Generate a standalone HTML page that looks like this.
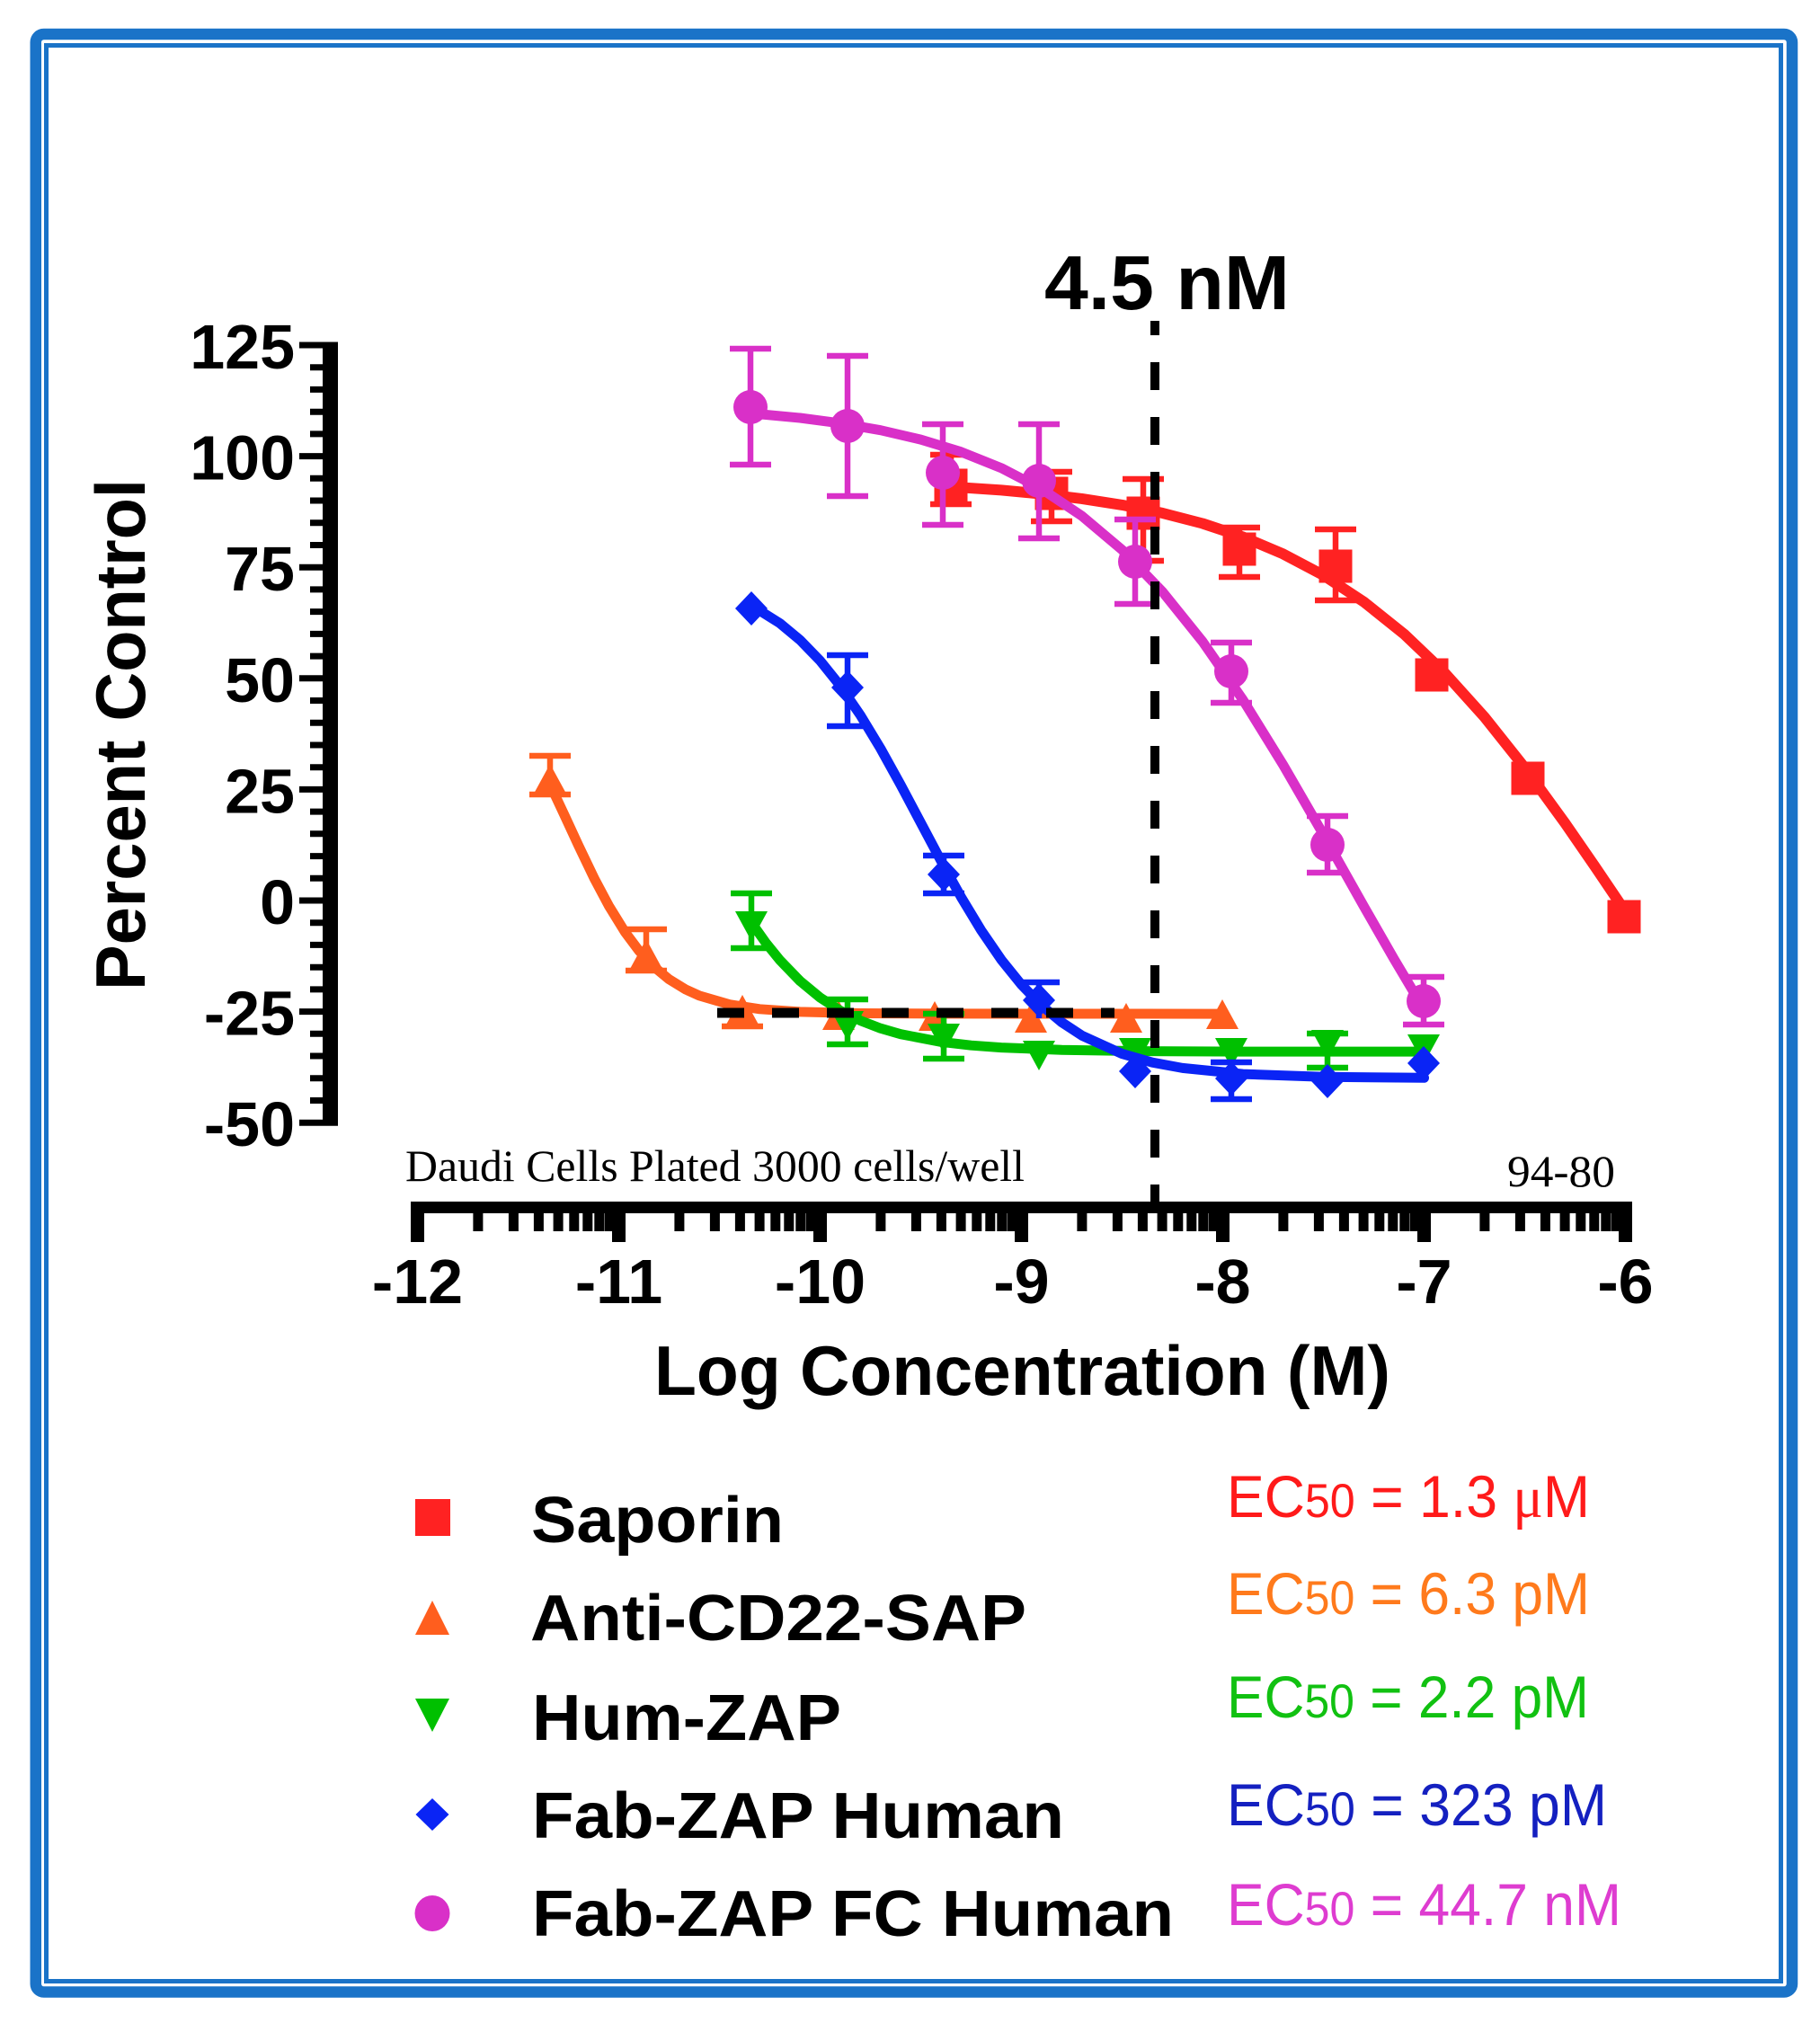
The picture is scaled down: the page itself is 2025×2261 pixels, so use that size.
<!DOCTYPE html>
<html>
<head>
<meta charset="utf-8">
<style>
  html, body { margin:0; padding:0; background:#ffffff; }
  svg { display:block; }
  .b { font-family:"Liberation Sans", Arial, sans-serif; font-weight:bold; }
  .r { font-family:"Liberation Sans", Arial, sans-serif; font-weight:normal; }
  .s { font-family:"Liberation Serif", "Times New Roman", serif; }
</style>
</head>
<body>
<svg width="2025" height="2261" viewBox="0 0 2025 2261" xmlns="http://www.w3.org/2000/svg">
  <rect x="0" y="0" width="2025" height="2261" fill="#ffffff"/>
  <!-- frame -->
  <rect x="39.75" y="38" width="1954.25" height="2178.5" rx="9" fill="none" stroke="#1a73c8" stroke-width="12.5"/>
  <rect x="51.5" y="50.5" width="1930" height="2154" fill="none" stroke="#1a73c8" stroke-width="5"/>

  <!-- Y axis -->
  <rect x="359" y="381" width="17" height="871" fill="#000"/>
  <path fill="none" stroke="#000" stroke-width="7" d="
    M333,384H376 M345,408.7H376 M345,433.4H376 M345,458.2H376 M345,482.9H376
    M333,507.6H376 M345,532.3H376 M345,557H376 M345,581.8H376 M345,606.5H376
    M333,631.2H376 M345,655.9H376 M345,680.6H376 M345,705.4H376 M345,730.1H376
    M333,754.8H376 M345,779.5H376 M345,804.2H376 M345,829H376 M345,853.7H376
    M333,878.4H376 M345,903.1H376 M345,927.8H376 M345,952.6H376 M345,977.3H376
    M333,1002H376 M345,1026.7H376 M345,1051.4H376 M345,1076.2H376 M345,1100.9H376
    M333,1125.6H376 M345,1150.3H376 M345,1175H376 M345,1199.8H376 M345,1224.5H376
    M333,1249.2H376"/>
  <g class="b" font-size="70" text-anchor="end" fill="#000">
    <text x="328" y="410">125</text>
    <text x="328" y="533.6">100</text>
    <text x="328" y="657.2">75</text>
    <text x="328" y="780.8">50</text>
    <text x="328" y="904.4">25</text>
    <text x="328" y="1028">0</text>
    <text x="328" y="1151.6">-25</text>
    <text x="328" y="1275.2">-50</text>
  </g>
  <text class="b" font-size="78" text-anchor="middle" textLength="569" lengthAdjust="spacingAndGlyphs" transform="translate(161,817.5) rotate(-90)" fill="#000">Percent Control</text>

  <!-- X axis -->
  <rect x="457" y="1337" width="1359" height="13" fill="#000"/>
  <g fill="#000">
    <rect x="457" y="1337" width="15" height="45"/>
    <rect x="681" y="1337" width="15" height="45"/>
    <rect x="905" y="1337" width="15" height="45"/>
    <rect x="1129" y="1337" width="15" height="45"/>
    <rect x="1353" y="1337" width="15" height="45"/>
    <rect x="1577" y="1337" width="15" height="45"/>
    <rect x="1801" y="1337" width="15" height="45"/>
  </g>
  <path fill="none" stroke="#000" stroke-width="11" d="
    M531.9,1343V1370 M571.4,1343V1370 M599.4,1343V1370 M621.1,1343V1370 M638.8,1343V1370 M653.8,1343V1370 M666.8,1343V1370 M678.2,1343V1370
    M755.9,1343V1370 M795.4,1343V1370 M823.4,1343V1370 M845.1,1343V1370 M862.8,1343V1370 M877.8,1343V1370 M890.8,1343V1370 M902.2,1343V1370
    M979.9,1343V1370 M1019.4,1343V1370 M1047.4,1343V1370 M1069.1,1343V1370 M1086.8,1343V1370 M1101.8,1343V1370 M1114.8,1343V1370 M1126.2,1343V1370
    M1203.9,1343V1370 M1243.4,1343V1370 M1271.4,1343V1370 M1293.1,1343V1370 M1310.8,1343V1370 M1325.8,1343V1370 M1338.8,1343V1370 M1350.2,1343V1370
    M1427.9,1343V1370 M1467.4,1343V1370 M1495.4,1343V1370 M1517.1,1343V1370 M1534.8,1343V1370 M1549.8,1343V1370 M1562.8,1343V1370 M1574.2,1343V1370
    M1651.9,1343V1370 M1691.4,1343V1370 M1719.4,1343V1370 M1741.1,1343V1370 M1758.8,1343V1370 M1773.8,1343V1370 M1786.8,1343V1370 M1798.2,1343V1370"/>
  <g class="b" font-size="70" text-anchor="middle" fill="#000">
    <text x="464.5" y="1450">-12</text>
    <text x="688.5" y="1450">-11</text>
    <text x="912.5" y="1450">-10</text>
    <text x="1136.5" y="1450">-9</text>
    <text x="1360.5" y="1450">-8</text>
    <text x="1584.5" y="1450">-7</text>
    <text x="1808.5" y="1450">-6</text>
  </g>
  <text class="b" x="728" y="1552" font-size="78" textLength="819" lengthAdjust="spacingAndGlyphs" fill="#000">Log Concentration (M)</text>

  <text class="s" x="451" y="1314" font-size="50" textLength="689" lengthAdjust="spacingAndGlyphs" fill="#000">Daudi Cells Plated 3000 cells/well</text>
  <text class="s" x="1677" y="1320" font-size="50" textLength="120" lengthAdjust="spacingAndGlyphs" fill="#000">94-80</text>

  <text class="b" x="1162" y="344" font-size="85" textLength="273" lengthAdjust="spacingAndGlyphs" fill="#000">4.5 nM</text>

  <!-- ===== Saporin (red) ===== -->
  <g stroke="#ff2222" stroke-width="6.5" fill="none">
    <path d="M1058,506V561 M1035,506H1081 M1035,561H1081"/>
    <path d="M1170,525V580 M1147,525H1193 M1147,580H1193"/>
    <path d="M1272,533V624 M1249,533H1295 M1249,624H1295"/>
    <path d="M1379,587V642 M1356,587H1402 M1356,642H1402"/>
    <path d="M1486,589V668 M1463,589H1509 M1463,668H1509"/>
  </g>
  <path fill="none" stroke="#ff2222" stroke-width="12" stroke-linejoin="round" stroke-linecap="round"
    d="M1060.3,541.8 L1114.1,545.4 L1158.9,549.6 L1203.7,554.9 L1248.5,561.9 L1293.3,570.9 L1338.1,582.5 L1382.9,597.4 L1427.7,616.4 L1472.5,640.1 L1517.3,669.6 L1562.1,705.4 L1606.9,748.1 L1651.7,797.9 L1696.5,854.2 L1741.3,915.9 L1774.9,964.6 L1808.5,1014.4"/>
  <g fill="#ff2222">
    <rect x="1039.5" y="521.5" width="37" height="37"/>
    <rect x="1151.5" y="530.5" width="37" height="37"/>
    <rect x="1253.5" y="552.5" width="37" height="37"/>
    <rect x="1360.5" y="592.5" width="37" height="37"/>
    <rect x="1467.5" y="611.5" width="37" height="37"/>
    <rect x="1574.5" y="732.5" width="37" height="37"/>
    <rect x="1681.5" y="847.5" width="37" height="37"/>
    <rect x="1788.5" y="1001.5" width="37" height="37"/>
  </g>

  <!-- ===== Anti-CD22-SAP (orange) ===== -->
  <g stroke="#ff5e1e" stroke-width="6.5" fill="none">
    <path d="M612,841V884 M589,841H635 M589,884H635"/>
    <path d="M719,1034V1080 M696,1034H742 M696,1080H742"/>
    <path d="M826,1118V1142 M803,1142H849"/>
  </g>
  <path fill="none" stroke="#ff5e1e" stroke-width="11" stroke-linejoin="round" stroke-linecap="round"
    d="M612.3,873.5 L628,907 L643.7,940.9 L661.6,978.2 L677.3,1007.7 L695.2,1036.8 L710.9,1057.8 L728.8,1076.8 L744.5,1089.7 L762.4,1100.7 L778.1,1107.9 L811.7,1117.7 L845.3,1122.8 L890.1,1125.9 L957.3,1127.5 L1046.9,1127.9 L1360.5,1128.1"/>
  <g fill="#ff5e1e">
    <path d="M612,850 L630,883 L594,883 Z"/>
    <path d="M719,1045 L737,1078 L701,1078 Z"/>
    <path d="M826,1107 L844,1140 L808,1140 Z"/>
    <path d="M933,1113 L951,1146 L915,1146 Z"/>
    <path d="M1040,1114 L1058,1147 L1022,1147 Z"/>
    <path d="M1147,1116 L1165,1149 L1129,1149 Z"/>
    <path d="M1253,1116 L1271,1149 L1235,1149 Z"/>
    <path d="M1360,1112 L1378,1145 L1342,1145 Z"/>
  </g>

  <!-- ===== Hum-ZAP (green) ===== -->
  <g stroke="#00c000" stroke-width="6.5" fill="none">
    <path d="M836,994V1055 M813,994H859 M813,1055H859"/>
    <path d="M943,1112V1162 M920,1112H966 M920,1162H966"/>
    <path d="M1050,1128V1178 M1027,1128H1073 M1027,1178H1073"/>
    <path d="M1477,1150V1188 M1454,1150H1500 M1454,1188H1500"/>
  </g>
  <path fill="none" stroke="#00c000" stroke-width="11" stroke-linejoin="round" stroke-linecap="round"
    d="M836.3,1026.8 L852,1048.9 L867.7,1068.3 L890.1,1091.5 L912.5,1110 L934.9,1124.5 L957.3,1135.6 L979.7,1144.2 L1002.1,1150.7 L1046.9,1159.3 L1080.5,1163.2 L1114.1,1165.6 L1181.3,1168.3 L1270.9,1169.6 L1382.9,1170.1 L1584.5,1170.1"/>
  <g fill="#00c000">
    <path d="M818,1014 L854,1014 L836,1047 Z"/>
    <path d="M925,1125 L961,1125 L943,1158 Z"/>
    <path d="M1032,1139 L1068,1139 L1050,1172 Z"/>
    <path d="M1138,1158 L1174,1158 L1156,1191 Z"/>
    <path d="M1245,1155 L1281,1155 L1263,1188 Z"/>
    <path d="M1352,1155 L1388,1155 L1370,1188 Z"/>
    <path d="M1459,1146 L1495,1146 L1477,1179 Z"/>
    <path d="M1566,1151 L1602,1151 L1584,1184 Z"/>
  </g>

  <!-- ===== Fab-ZAP Human (blue) ===== -->
  <g stroke="#0a24f5" stroke-width="6.5" fill="none">
    <path d="M943,729V808 M920,729H966 M920,808H966"/>
    <path d="M1050,952V994 M1027,952H1073 M1027,994H1073"/>
    <path d="M1156,1093V1133 M1133,1093H1179"/>
    <path d="M1370,1182V1223 M1347,1182H1393 M1347,1223H1393"/>
  </g>
  <path fill="none" stroke="#0a24f5" stroke-width="11" stroke-linejoin="round" stroke-linecap="round"
    d="M836.3,673.8 L867.7,693.5 L890.1,712.1 L912.5,735.2 L934.9,763.1 L957.3,795.8 L979.7,832.8 L1002.1,873.3 L1024.5,915.5 L1046.9,957.7 L1069.3,998.1 L1091.7,1035.2 L1114.1,1067.9 L1136.5,1095.7 L1158.9,1118.8 L1181.3,1137.5 L1203.7,1152.2 L1248.5,1172.6 L1282.1,1182.2 L1315.7,1188.4 L1382.9,1195.1 L1472.5,1198.3 L1584.5,1199.3"/>
  <g fill="#0a24f5">
    <path d="M836,658 L854,677 L836,696 L818,677 Z"/>
    <path d="M943,746 L961,765 L943,784 L925,765 Z"/>
    <path d="M1050,954 L1068,973 L1050,992 L1032,973 Z"/>
    <path d="M1156,1094 L1174,1113 L1156,1132 L1138,1113 Z"/>
    <path d="M1263,1173 L1281,1192 L1263,1211 L1245,1192 Z"/>
    <path d="M1370,1181 L1388,1200 L1370,1219 L1352,1200 Z"/>
    <path d="M1477,1184 L1495,1203 L1477,1222 L1459,1203 Z"/>
    <path d="M1584,1164 L1602,1183 L1584,1202 L1566,1183 Z"/>
  </g>

  <!-- ===== Fab-ZAP FC Human (magenta) ===== -->
  <g stroke="#d930c8" stroke-width="6.5" fill="none">
    <path d="M835,388V517 M812,388H858 M812,517H858"/>
    <path d="M943,396V552 M920,396H966 M920,552H966"/>
    <path d="M1049,472V584 M1026,472H1072 M1026,584H1072"/>
    <path d="M1156,472V599 M1133,472H1179 M1133,599H1179"/>
    <path d="M1263,578V672 M1240,578H1286 M1240,672H1286"/>
    <path d="M1370,715V782 M1347,715H1393 M1347,782H1393"/>
    <path d="M1477,908V971 M1454,908H1500 M1454,971H1500"/>
    <path d="M1584,1087V1140 M1561,1087H1607 M1561,1140H1607"/>
  </g>
  <path fill="none" stroke="#d930c8" stroke-width="11" stroke-linejoin="round" stroke-linecap="round"
    d="M836.3,460 L890.1,465 L934.9,470.9 L979.7,478.7 L1024.5,489.1 L1069.3,502.8 L1114.1,520.8 L1158.9,544.1 L1203.7,574.1 L1248.5,611.8 L1293.3,658.3 L1338.1,714 L1382.9,778.6 L1427.7,851.1 L1472.5,928.6 L1517.3,1008.2 L1550.9,1066.8 L1584.5,1123.3"/>
  <g fill="#d930c8">
    <circle cx="835" cy="453" r="19"/>
    <circle cx="943" cy="474" r="19"/>
    <circle cx="1049" cy="526" r="19"/>
    <circle cx="1156" cy="535" r="19"/>
    <circle cx="1263" cy="625" r="19"/>
    <circle cx="1370" cy="747" r="19"/>
    <circle cx="1477" cy="940" r="19"/>
    <circle cx="1584" cy="1114" r="19"/>
  </g>

  <!-- dashed reference lines -->
  <line x1="798" y1="1127" x2="1240" y2="1127" stroke="#000" stroke-width="11" stroke-dasharray="30 31"/>
  <line x1="1285" y1="357" x2="1285" y2="1337" stroke="#000" stroke-width="10" stroke-dasharray="31 30" stroke-dashoffset="15"/>

  <!-- Legend -->
  <rect x="462" y="1668" width="39" height="41" fill="#ff2222"/>
  <path d="M481,1781 L500,1819 L462,1819 Z" fill="#ff5e1e"/>
  <path d="M462,1890 L500,1890 L481,1927 Z" fill="#00c000"/>
  <path d="M481,2001 L499.5,2019 L481,2037 L462.5,2019 Z" fill="#0a24f5"/>
  <ellipse cx="481" cy="2129" rx="19.5" ry="20" fill="#d930c8"/>

  <g class="b" font-size="72" fill="#000">
    <text x="591" y="1716" textLength="281" lengthAdjust="spacingAndGlyphs">Saporin</text>
    <text x="590" y="1825" textLength="552" lengthAdjust="spacingAndGlyphs">Anti-CD22-SAP</text>
    <text x="592" y="1936" textLength="344" lengthAdjust="spacingAndGlyphs">Hum-ZAP</text>
    <text x="592" y="2045" textLength="592" lengthAdjust="spacingAndGlyphs">Fab-ZAP Human</text>
    <text x="592" y="2154" textLength="714" lengthAdjust="spacingAndGlyphs">Fab-ZAP FC Human</text>
  </g>

  <g class="r" font-size="66">
    <text x="1365" y="1688" fill="#ff1a1a" textLength="404" lengthAdjust="spacingAndGlyphs">EC<tspan font-size="53">50</tspan> = 1.3 <tspan font-family="Liberation Serif, serif">μ</tspan>M</text>
    <text x="1365" y="1796" fill="#ff7a1c" textLength="404" lengthAdjust="spacingAndGlyphs">EC<tspan font-size="53">50</tspan> = 6.3 pM</text>
    <text x="1365" y="1911" fill="#11c111" textLength="403" lengthAdjust="spacingAndGlyphs">EC<tspan font-size="53">50</tspan> = 2.2 pM</text>
    <text x="1365" y="2031" fill="#1420c0" textLength="423" lengthAdjust="spacingAndGlyphs">EC<tspan font-size="53">50</tspan> = 323 pM</text>
    <text x="1365" y="2142" fill="#de3cd0" textLength="439" lengthAdjust="spacingAndGlyphs">EC<tspan font-size="53">50</tspan> = 44.7 nM</text>
  </g>
</svg>
</body>
</html>
